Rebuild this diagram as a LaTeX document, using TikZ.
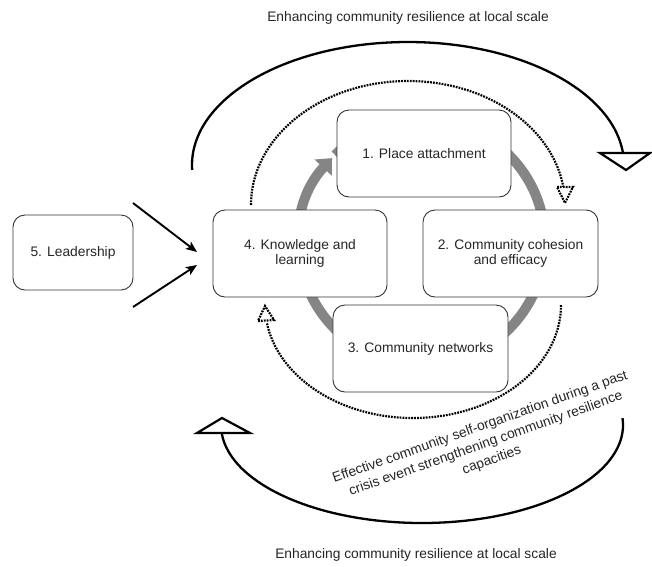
\documentclass[tikz,border=0pt]{standalone}
\usepackage{fontspec}
\setmainfont{Liberation Sans}
\usetikzlibrary{arrows.meta}
\begin{document}
\begin{tikzpicture}[x=1pt,y=-1pt,
  txt/.style={font=\fontsize{13.8}{15.5}\selectfont, text=black!85, align=center},
  stepbox/.style={txt, draw=black!80, line width=0.9pt, rounded corners=12pt, fill=white,
    minimum width=174pt, minimum height=87pt, inner sep=2pt},
  ring/.style={draw=black!48, line width=10pt},
  solidarc/.style={draw=black, line width=2.3pt},
  dotarc/.style={draw=black, line width=2.2pt, dash pattern=on 1.8pt off 1.1pt},
  headtri/.style={draw=black, line width=2.2pt, fill=white, line join=miter},
  leadarrow/.style={draw=black, line width=1.9pt, -{Stealth[length=11pt,width=9pt,inset=2.5pt]}}
]
\useasboundingbox (0,0) rectangle (652,566);
\fill[white] (0,0) rectangle (652,566);

% gray cycle ring with arrow
\coordinate (rc) at (422,242);
\draw[ring, -{Triangle[length=13pt,width=23pt]}] (rc) ++(-135:123) arc[start angle=-135, end angle=223, radius=123];

% boxes
\node[stepbox] (n1) at (424,153.5) {1. Place attachment};
\node[stepbox, minimum width=175pt] (n2) at (510.5,253.5) {2. Community cohesion\\and efficacy};
\node[stepbox, minimum width=175pt] (n3) at (420.5,348.5) {3. Community networks};
\node[stepbox] (n4) at (300,253.5) {4. Knowledge and\\learning};
\node[stepbox, minimum width=120pt, minimum height=75pt] (n5) at (73,252.5) {5. Leadership};

% arrows into node 4
\coordinate (l1) at (133,203);
\coordinate (l1e) at (197,252);
\coordinate (l2) at (133,307);
\coordinate (l2e) at (197,265);
\draw[leadarrow] (l1) -- (l1e);
\draw[leadarrow] (l2) -- (l2e);

% dotted arcs
\coordinate (dtc) at (408,205);
\draw[dotarc] (dtc) ++(180:157 and 124) arc[start angle=180, end angle=352, x radius=157, y radius=124];
\draw[dotarc, fill=white] (557,187) -- (573,187) -- (565,203) -- cycle;
\coordinate (dbc) at (413,305);
\draw[dotarc] (dbc) ++(0:148 and 113) arc[start angle=0, end angle=171, x radius=148, y radius=113];
\draw[dotarc, fill=white] (258,321) -- (274,320) -- (265,306) -- cycle;

% solid outer arcs
\coordinate (stc) at (408,165);
\draw[solidarc] (stc) ++(177.7:216 and 123) arc[start angle=177.7, end angle=354.4, x radius=216, y radius=123];
\draw[headtri] (600,153) -- (650,153) -- (626,170) -- cycle;
\coordinate (sbc) at (422,425);
\draw[solidarc] (sbc) ++(-4:201 and 98) arc[start angle=-4, end angle=175.4, x radius=201, y radius=98];
\draw[headtri] (197,433) -- (250,433) -- (222,418) -- cycle;

% texts
\node[txt] (ttop) at (408,18) {Enhancing community resilience at local scale};
\node[txt] (tbot) at (416,555) {Enhancing community resilience at local scale};
\node[txt, font=\fontsize{13.8}{17.5}\selectfont, rotate=19.5] (tloop) at (486,444)
  {Effective community self-organization during a past\\crisis event strengthening community resilience\\capacities};
\end{tikzpicture}
\end{document}
